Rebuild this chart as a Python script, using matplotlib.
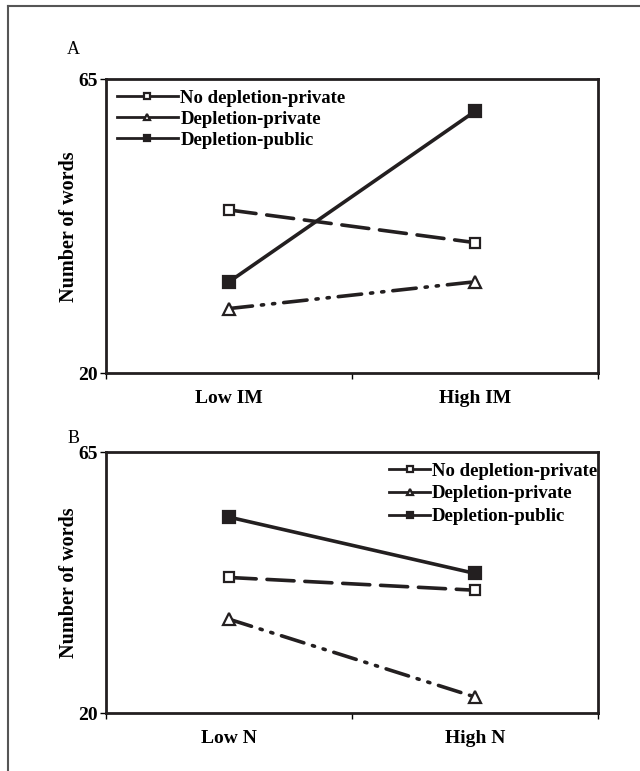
import matplotlib.pyplot as plt
from matplotlib.lines import Line2D

plt.rcParams['font.family'] = ['Liberation Serif', 'DejaVu Serif']

series = ['No depletion-private', 'Depletion-private', 'Depletion-public']
cats_a = ['Low IM', 'High IM']
cats_b = ['Low N', 'High N']
vals_a = [[45.0, 40.0], [29.9, 34.0], [34.0, 60.1]]
vals_b = [[43.4, 41.2], [36.2, 22.8], [53.8, 44.1]]
yticks = [20, 65]

styles = [
    dict(linestyle=(0, (7.5, 3)), marker='s', markerfacecolor='white', markersize=7),
    dict(linestyle=(0, (6.5, 2.5, 0.6, 2.5, 0.6, 2.5)), marker='^', markerfacecolor='white',
         markersize=8),
    dict(linestyle='-', marker='s', markerfacecolor='#231f20', markersize=9),
]

fig = plt.figure(figsize=(6.4, 7.71), dpi=100)


def draw_panel(rect, cats, vals, letter, letter_y, legend_loc, legend_anchor,
               handlelength, labelspacing):
    ax = fig.add_axes(rect)
    x = [0.5, 1.5]
    for name, v, st in zip(series, vals, styles):
        ax.plot(x, v, color='#231f20', linewidth=2.6, markeredgewidth=1.6,
                markeredgecolor='#231f20', label=name, dash_capstyle='round', **st)
    ax.set_xlim(0, 2)
    ax.set_ylim(20, 65)
    ax.set_xticks([0, 1, 2])
    ax.set_xticklabels([])
    ax.set_xticks(x, minor=True)
    ax.set_xticklabels(cats, minor=True, fontsize=14, fontweight='bold')
    ax.tick_params(axis='x', which='minor', length=0, pad=12)
    ax.tick_params(axis='x', which='major', length=4, width=1, direction='out')
    ax.set_yticks(yticks)
    ax.set_yticklabels([str(t) for t in yticks], fontsize=14, fontweight='bold')
    ax.tick_params(axis='y', length=4, width=1, direction='out', pad=2)
    for s in ax.spines.values():
        s.set_linewidth(2)
        s.set_color('#231f20')
    ax.set_ylabel('Number of words', fontsize=14.5, fontweight='bold')
    ax.yaxis.set_label_coords(-0.055, 0.5)
    leg = ax.legend(loc=legend_loc, bbox_to_anchor=legend_anchor, frameon=False,
                    handlelength=handlelength, handletextpad=0.1,
                    labelspacing=labelspacing, borderaxespad=0.15,
                    prop=dict(size=13.5, weight='bold'))
    for h in leg.get_lines():
        h.set_linewidth(2)
        h.set_linestyle('-')
        h.set_markersize(5)
    fig.text(0.105, letter_y, letter, fontsize=13)
    return ax


draw_panel([0.166, 0.516, 0.768, 0.381], cats_a, vals_a, 'A', 0.93,
           'upper left', (0.0, 1.0), 3.3, 0.2)
draw_panel([0.166, 0.075, 0.768, 0.3385], cats_b, vals_b, 'B', 0.425,
           'upper right', (1.02, 1.0), 2.2, 0.3)

# outer frame (top and left edges)
fig.add_artist(Line2D([0.0125, 1.0], [0.992, 0.992], transform=fig.transFigure,
                      color='#555555', linewidth=1.5))
fig.add_artist(Line2D([0.0125, 0.0125], [0.0, 0.992], transform=fig.transFigure,
                      color='#555555', linewidth=1.5))

fig.savefig('out.png', dpi=100)
